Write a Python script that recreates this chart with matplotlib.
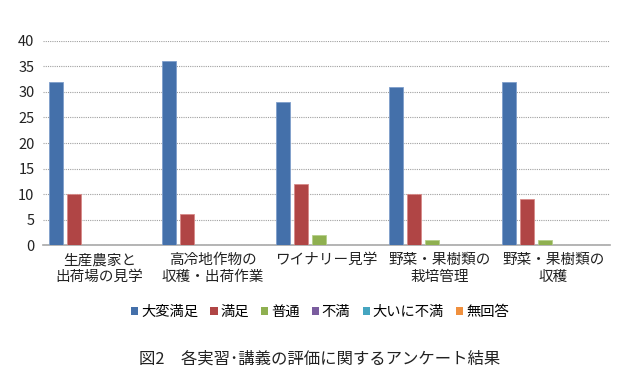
import matplotlib
matplotlib.use("Agg")
import matplotlib.pyplot as plt
from matplotlib.patches import Patch
import numpy as np

plt.rcParams["font.family"] = ["Noto Sans CJK JP", "DejaVu Sans"]

categories = ["生産農家と\n出荷場の見学", "高冷地作物の\n収穫・出荷作業", "ワイナリー見学",
              "野菜・果樹類の\n栽培管理", "野菜・果樹類の\n収穫"]
series_names = ["大変満足", "満足", "普通", "不満", "大いに不満", "無回答"]
very_satisfied = [32, 36, 28, 31, 32]
satisfied = [10, 6, 12, 10, 9]
neutral = [0, 0, 2, 1, 1]
dissatisfied = [0, 0, 0, 0, 0]
very_dissatisfied = [0, 0, 0, 0, 0]
no_answer = [0, 0, 0, 0, 0]
yticks = [0, 5, 10, 15, 20, 25, 30, 35, 40]

series = [very_satisfied, satisfied, neutral, dissatisfied, very_dissatisfied, no_answer]
colors = ["#4470aa", "#b04545", "#8fb050", "#7a5c9e", "#45a5c0", "#f0903e"]
edges = ["#7f9fcb", "#d88a88", "#b5cf8a", "#a58fc0", "#8ccbdc", "#f7bd8c"]

fig = plt.figure(figsize=(6.4, 3.82), dpi=100)
ax = fig.add_axes([0.067, 0.3586, 0.886, 0.5341])

x = np.arange(len(categories))
step = 18 / 113.4
width = 14 / 113.4
for j, (vals, c, ec) in enumerate(zip(series, colors, edges)):
    ax.bar(x + (j - 2.5) * step + 0.01, vals, width=width, color=c,
           edgecolor=ec, linewidth=0.6, zorder=3)

ax.set_xlim(-0.5, len(categories) - 0.5)
ax.set_ylim(0, 40)
ax.set_yticks(yticks)
ax.set_xticks(x)
ax.set_xticklabels(categories, fontsize=10.5, color="#222222", linespacing=1.25)
ax.tick_params(axis="y", length=0, labelsize=10.5, colors="#222222", pad=6)
ax.tick_params(axis="x", length=0, pad=6)
ax.grid(axis="y", color="#a0a0a0", linestyle=(0, (1, 1)), linewidth=0.8, zorder=0)
for side in ["top", "right", "left"]:
    ax.spines[side].set_visible(False)
ax.spines["bottom"].set_color("#a8a8a8")
ax.spines["bottom"].set_linewidth(1.2)

handles = [Patch(facecolor=c, edgecolor="none") for c in colors]
fig.legend(handles, series_names, loc="center", bbox_to_anchor=(0.5, 0.183),
           ncol=6, frameon=False, fontsize=10.3, handlelength=0.5, handleheight=0.5,
           handletextpad=0.2, columnspacing=0.85)

fig.text(0.5, 0.06, "図2　各実習･講義の評価に関するアンケート結果", ha="center", va="center",
         fontsize=11.8, color="#222222")

fig.savefig("out.png", dpi=100, facecolor="white")
